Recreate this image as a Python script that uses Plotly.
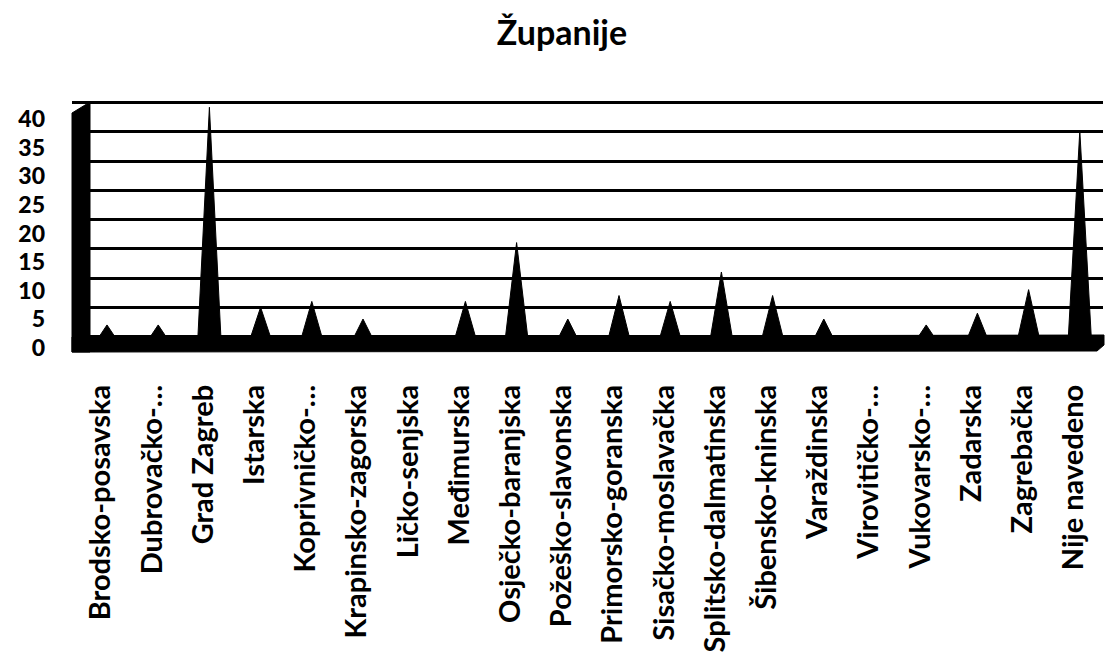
import plotly.graph_objects as go

# ---- data ----
title_text = "Županije"
categories = [
    "Brodsko-posavska", "Dubrovačko-…", "Grad Zagreb", "Istarska", "Koprivničko-…",
    "Krapinsko-zagorska", "Ličko-senjska", "Međimurska", "Osječko-baranjska",
    "Požeško-slavonska", "Primorsko-goranska", "Sisačko-moslavačka",
    "Splitsko-dalmatinska", "Šibensko-kninska", "Varaždinska", "Virovitičko-…",
    "Vukovarsko-…", "Zadarska", "Zagrebačka", "Nije navedeno",
]
values = [3, 3, 40, 6, 7, 4, 0, 7, 17, 4, 8, 7, 12, 8, 4, 0, 3, 5, 9, 36]
y_ticks = [0, 5, 10, 15, 20, 25, 30, 35, 40]

# ---- layout geometry (pixels) ----
FW, FH = 1105, 653
L, R, T, B = 72, 1103, 95, 360
W, H = R - L, B - T


def yrange(zero_px, unit_px):
    r0 = -(B - zero_px) / unit_px
    return [r0, r0 + H / unit_px]


def xrange_(first_px, step_px):
    r0 = -(first_px - L) / step_px
    return [r0, r0 + W / step_px]


def xp(px):
    return (px - L) / W


def yp(py):
    return (B - py) / H


# cones (pyramids) built from data, positioned through the x/y axes
half = 0.23
cx, cy = [], []
for i, v in enumerate(values):
    if v <= 0:
        continue
    cx += [i - half, i, i + half, None]
    cy += [0, v, 0, None]

fig = go.Figure()
fig.add_trace(go.Scatter(
    x=cx, y=cy, mode="lines", fill="toself", fillcolor="black",
    line=dict(color="black", width=1), hoverinfo="skip", showlegend=False,
    xaxis="x", yaxis="y",
))
# invisible helper traces so overlay axes (labels / grid) render
fig.add_trace(go.Scatter(x=[0], y=[0], mode="markers", marker=dict(opacity=0),
                         hoverinfo="skip", showlegend=False, xaxis="x2", yaxis="y2"))
fig.add_trace(go.Scatter(x=[0], y=[0], mode="markers", marker=dict(opacity=0),
                         hoverinfo="skip", showlegend=False, xaxis="x", yaxis="y3"))

xlabel_font = dict(family="Lato", size=29, color="black", weight="bold")
ylabel_font = dict(family="Lato", size=23, color="black", weight=900)

shapes = [
    # floor
    dict(type="path", xref="paper", yref="paper", layer="above",
         path=(f"M {xp(72)},{yp(337)} L {xp(1104)},{yp(335)} L {xp(1104)},{yp(345)} "
               f"L {xp(1097)},{yp(351)} L {xp(72)},{yp(352)} Z"),
         fillcolor="black", line=dict(color="black", width=1)),
    # left wall
    dict(type="path", xref="paper", yref="paper", layer="above",
         path=(f"M {xp(72)},{yp(113)} L {xp(90)},{yp(102)} L {xp(90)},{yp(352)} "
               f"L {xp(72)},{yp(352)} Z"),
         fillcolor="black", line=dict(color="black", width=1)),
]

fig.update_layout(
    width=FW, height=FH,
    margin=dict(l=L, r=FW - R, t=T, b=FH - B, autoexpand=False),
    paper_bgcolor="white", plot_bgcolor="white",
    showlegend=False,
    title=dict(text=title_text, x=562 / FW, xref="container", xanchor="center",
               y=1 - 33 / FH, yref="container", yanchor="middle",
               font=dict(family="Lato", size=34, color="black", weight="bold")),
    xaxis=dict(range=xrange_(107, 51.2), showticklabels=False, showgrid=False,
               zeroline=False, showline=False, ticks="", automargin=False),
    xaxis2=dict(overlaying="x", side="bottom", anchor="y2",
                range=xrange_(101, 51.2), tickmode="array",
                tickvals=list(range(len(categories))), ticktext=categories,
                tickangle=-90, tickfont=xlabel_font, ticklabelstandoff=18,
                showgrid=False, zeroline=False, showline=False, ticks="",
                automargin=False),
    yaxis=dict(range=yrange(342.6, 5.884), showticklabels=False, showgrid=False,
               zeroline=False, showline=False, ticks="", automargin=False),
    yaxis2=dict(overlaying="y", anchor="x2", range=yrange(336.7, 5.85),
                tickmode="array", tickvals=y_ticks, showticklabels=False,
                showgrid=True, gridcolor="black", gridwidth=2.7,
                zeroline=False, showline=False, ticks="", automargin=False),
    yaxis3=dict(overlaying="y", anchor="x", side="left", range=yrange(348, 5.72),
                tickmode="array", tickvals=y_ticks,
                ticktext=[str(t) for t in y_ticks], tickfont=ylabel_font,
                ticklabelstandoff=26, showgrid=False, zeroline=False,
                showline=False, ticks="", automargin=False),
    shapes=shapes,
)

fig.write_html("out.html", config={"displayModeBar": False},
               post_script="document.body.style.margin='0px';")
